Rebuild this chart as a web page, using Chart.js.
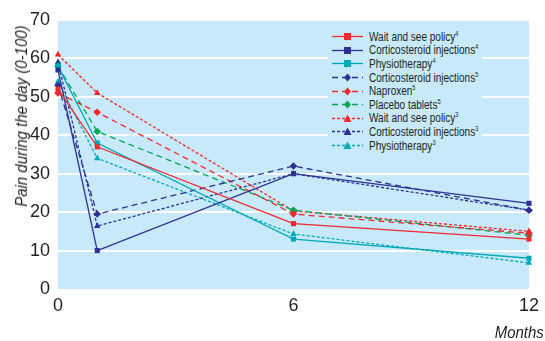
<!DOCTYPE html>
<html>
<head>
<meta charset="utf-8">
<script src="https://cdn.jsdelivr.net/npm/chart.js@4"></script>
<style>
  body { margin: 0; background: #fff; }
  #wrap { position: relative; width: 545px; height: 341px; font-family: 'Liberation Sans', Arial, sans-serif; color: #231f20; }
  #yTitle { position: absolute; left: 22px; top: 116px; transform: translate(-50%, -50%) rotate(-90deg) scaleX(0.88); font-size: 17px; font-style: italic; white-space: nowrap; }
  #xTitle { position: absolute; right: 1px; top: 323px; font-size: 17px; font-style: italic; transform: scaleX(0.88); transform-origin: right center; }
  #legend { position: absolute; left: 328px; top: 28px; width: 150px; height: 124px; background: #c8e9f9; padding: 2px 0 0 4px; }
  .item { display: flex; align-items: center; height: 13.6px; font-size: 12.5px; white-space: nowrap; }
  .item svg { margin-right: 6px; flex: none; }
  .item span { display: inline-block; transform: scaleX(0.8); transform-origin: left center; }
  sup { font-size: 7px; vertical-align: 5px; }
</style>
</head>
<body>
<div id="wrap">
  <canvas id="chart" width="545" height="341"></canvas>
  <div id="yTitle">Pain during the day (0-100)</div>
  <div id="xTitle">Months</div>
  <div id="legend"></div>
</div>
<script>
// months of follow-up
const months = [0, 1, 6, 12];
const yTicks = [0, 10, 20, 30, 40, 50, 60, 70];
const xTicks = [0, 6, 12];

// pain scores
const waitSee4 = [52, 37, 17, 13];
const cortico4 = [57, 10, 30, 22.3];
const physio4 = [58, 38, 13, 8];
const cortico5 = [53, 19.5, 32, 20.5];
const naproxen5 = [51, 46, 19.5, 14.5];
const placebo5 = [58, 41, 20.5, 14];
const waitSee3 = [61, 51, 20.3, 15];
const cortico3 = [59, 16.4, 30, 20.5];
const physio3 = [54, 34, 14.3, 6.8];

const RED = '#ee2a2e';
const NAVY = '#2e3192';
const CYAN = '#00a9b8';
const GREEN = '#00a651';

const series = [
    { name: 'Wait and see policy', ref: '4', data: waitSee4, color: RED, dash: [], point: 'rect' },
    { name: 'Corticosteroid injections', ref: '4', data: cortico4, color: NAVY, dash: [], point: 'rect' },
    { name: 'Physiotherapy', ref: '4', data: physio4, color: CYAN, dash: [], point: 'rect' },
    { name: 'Corticosteroid injections', ref: '5', data: cortico5, color: NAVY, dash: [6, 4], point: 'rectRot' },
    { name: 'Naproxen', ref: '5', data: naproxen5, color: RED, dash: [6, 4], point: 'rectRot' },
    { name: 'Placebo tablets', ref: '5', data: placebo5, color: GREEN, dash: [6, 4], point: 'rectRot' },
    { name: 'Wait and see policy', ref: '3', data: waitSee3, color: RED, dash: [3, 2], point: 'triangle' },
    { name: 'Corticosteroid injections', ref: '3', data: cortico3, color: NAVY, dash: [3, 2], point: 'triangle' },
    { name: 'Physiotherapy', ref: '3', data: physio3, color: CYAN, dash: [3, 2], point: 'triangle' }
];

const plotBg = {
    id: 'plotBg',
    beforeDraw(chart) {
        const { ctx, chartArea: a } = chart;
        ctx.save();
        ctx.fillStyle = '#c8e9f9';
        ctx.fillRect(a.left, a.top, a.right - a.left, a.bottom - a.top);
        ctx.restore();
    }
};

const tickFont = { family: "'Liberation Sans', Arial", size: 18 };

new Chart(document.getElementById('chart'), {
    type: 'line',
    data: {
        datasets: series.map(s => ({
            label: s.name + s.ref,
            data: s.data.map((v, i) => ({ x: months[i], y: v })),
            borderColor: s.color,
            backgroundColor: s.color,
            borderWidth: 1.3,
            borderDash: s.dash,
            pointStyle: s.point,
            pointRadius: s.point === 'rect' ? 3.6 : 3.8,
            pointBorderWidth: 0,
            tension: 0,
            clip: false
        }))
    },
    options: {
        responsive: false,
        animation: false,
        layout: { padding: { top: 20, right: 12, left: 0, bottom: 0 } },
        plugins: { legend: { display: false }, tooltip: { enabled: false } },
        scales: {
            x: {
                type: 'linear',
                min: 0,
                max: 12,
                afterBuildTicks: axis => { axis.ticks = xTicks.map(v => ({ value: v })); },
                afterFit: axis => { axis.height = 52; },
                grid: { display: false, drawTicks: false },
                border: { display: false },
                ticks: { color: '#231f20', font: tickFont, padding: 6, maxRotation: 0 }
            },
            y: {
                min: 0,
                max: 70,
                afterBuildTicks: axis => { axis.ticks = yTicks.map(v => ({ value: v })); },
                afterFit: axis => { axis.width = 58; },
                grid: { color: '#ffffff', lineWidth: ctx => ctx.tick.value === 0 ? 0 : 2, drawTicks: false },
                border: { display: false },
                ticks: { color: '#231f20', font: tickFont, padding: 8 }
            }
        }
    },
    plugins: [plotBg]
});

// legend with superscript reference numbers
const legend = document.getElementById('legend');
series.forEach(s => {
    const row = document.createElement('div');
    row.className = 'item';
    let marker = '';
    if (s.point === 'rect') marker = '<rect x="12" y="3" width="7" height="7" fill="' + s.color + '"/>';
    if (s.point === 'rectRot') marker = '<polygon points="15.5,2.5 19,6.5 15.5,10.5 12,6.5" fill="' + s.color + '"/>';
    if (s.point === 'triangle') marker = '<polygon points="15.5,2.5 19.5,10 11.5,10" fill="' + s.color + '"/>';
    row.innerHTML = '<svg width="31" height="13"><line x1="0" y1="6.5" x2="31" y2="6.5" stroke="' + s.color +
        '" stroke-width="1.3" stroke-dasharray="' + (s.dash.length ? s.dash.join(',') : 'none') + '"/>' + marker +
        '</svg><span>' + s.name + '<sup>' + s.ref + '</sup></span>';
    legend.appendChild(row);
});
</script>
</body>
</html>
